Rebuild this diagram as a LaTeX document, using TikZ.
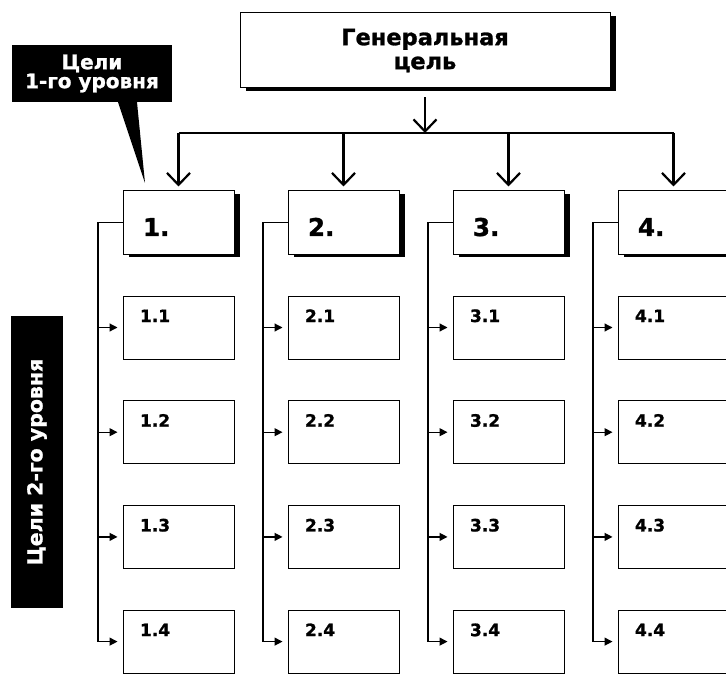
\documentclass[tikz,border=0pt]{standalone}
\usepackage{fontspec}
\setmainfont[BoldFeatures={FakeBold=1.2}]{DejaVu Sans}
\usetikzlibrary{arrows.meta,shadows}
\tikzset{
  shadowbox/.style={draw, line width=1pt, fill=white,
    drop shadow={shadow xshift=6pt, shadow yshift=-3pt, opacity=1, fill=black}},
  mainbox/.style={shadowbox, minimum width=370pt, minimum height=75pt, align=center,
    font=\bfseries\fontsize{22.5}{24}\selectfont},
  goal/.style={shadowbox, inner xsep=20pt, inner ysep=0pt, text width=71pt, align=left,
    text height=45pt, text depth=18pt, font=\bfseries\fontsize{24.5}{24}\selectfont},
  subgoal/.style={draw, line width=1pt, fill=white, inner xsep=17pt, inner ysep=0pt,
    text width=77pt, align=left, text height=26pt, text depth=37pt,
    font=\bfseries\fontsize{17}{17}\selectfont},
  tag/.style={fill=black, text=white, align=center, inner sep=0pt,
    font=\bfseries\fontsize{20}{19}\selectfont},
  bigarrow/.style={-{Straight Barb[length=12pt,width=23pt]}, line width=2.2pt},
  smallarrow/.style={-{Triangle[length=8pt,width=8pt]}, line width=1.2pt, shorten >=5pt}
}
\begin{document}
\begin{tikzpicture}[x=1pt,y=-1pt]
  \useasboundingbox (0,0) rectangle (726,674);
  \draw
    (425,50.5) node[mainbox] (gen) {Генеральная\\цель}
    (178.5,222.5) node[goal] (g1) {1.}
    (343.5,222.5) node[goal] (g2) {2.}
    (508.5,222.5) node[goal] (g3) {3.}
    (673.5,222.5) node[goal] (g4) {4.}
    (178.5,327.5) node[subgoal] (g11) {1.1}
    (178.5,432.2) node[subgoal] (g12) {1.2}
    (178.5,536.9) node[subgoal] (g13) {1.3}
    (178.5,641.6) node[subgoal] (g14) {1.4}
    (343.5,327.5) node[subgoal] (g21) {2.1}
    (343.5,432.2) node[subgoal] (g22) {2.2}
    (343.5,536.9) node[subgoal] (g23) {2.3}
    (343.5,641.6) node[subgoal] (g24) {2.4}
    (508.5,327.5) node[subgoal] (g31) {3.1}
    (508.5,432.2) node[subgoal] (g32) {3.2}
    (508.5,536.9) node[subgoal] (g33) {3.3}
    (508.5,641.6) node[subgoal] (g34) {3.4}
    (673.5,327.5) node[subgoal] (g41) {4.1}
    (673.5,432.2) node[subgoal] (g42) {4.2}
    (673.5,536.9) node[subgoal] (g43) {4.3}
    (673.5,641.6) node[subgoal] (g44) {4.4};
  % level tags
  \node[tag, minimum width=160pt, minimum height=57pt] (lvl1) at (92,73.5) {Цели\\1-го уровня};
  \node[tag, rotate=90, minimum width=292pt, minimum height=52pt,
    font=\bfseries\fontsize{20.5}{20}\selectfont] (lvl2) at (37,462) {Цели 2-го уровня};
  \coordinate (tip) at (145,183);
  \fill ([xshift=26pt]lvl1.south) -- (tip) -- ([xshift=45pt]lvl1.south) -- cycle;
  % general goal to level 1
  \coordinate (bus) at (425,133);
  \draw[bigarrow] ([yshift=-9pt]gen.south) -- (bus);
  \draw[line width=2.2pt] (g1.north |- bus) -- (g4.north |- bus);
  \begin{scope}[bigarrow, shorten >=4pt]
    \draw (g1.north |- bus) to (g1.north);
    \draw (g2.north |- bus) to (g2.north);
    \draw (g3.north |- bus) to (g3.north);
    \draw (g4.north |- bus) to (g4.north);
  \end{scope}
  % level 1 to level 2
  \coordinate (s1) at (98,222.5);
  \coordinate (s2) at (263,222.5);
  \coordinate (s3) at (428,222.5);
  \coordinate (s4) at (593,222.5);
  \begin{scope}[smallarrow]
    \draw (g1.west) -- (s1) |- (g14.west);
    \draw (s1 |- g11.west) to (g11.west);
    \draw (s1 |- g12.west) to (g12.west);
    \draw (s1 |- g13.west) to (g13.west);
    \draw (g2.west) -- (s2) |- (g24.west);
    \draw (s2 |- g21.west) to (g21.west);
    \draw (s2 |- g22.west) to (g22.west);
    \draw (s2 |- g23.west) to (g23.west);
    \draw (g3.west) -- (s3) |- (g34.west);
    \draw (s3 |- g31.west) to (g31.west);
    \draw (s3 |- g32.west) to (g32.west);
    \draw (s3 |- g33.west) to (g33.west);
    \draw (g4.west) -- (s4) |- (g44.west);
    \draw (s4 |- g41.west) to (g41.west);
    \draw (s4 |- g42.west) to (g42.west);
    \draw (s4 |- g43.west) to (g43.west);
  \end{scope}
\end{tikzpicture}
\end{document}
